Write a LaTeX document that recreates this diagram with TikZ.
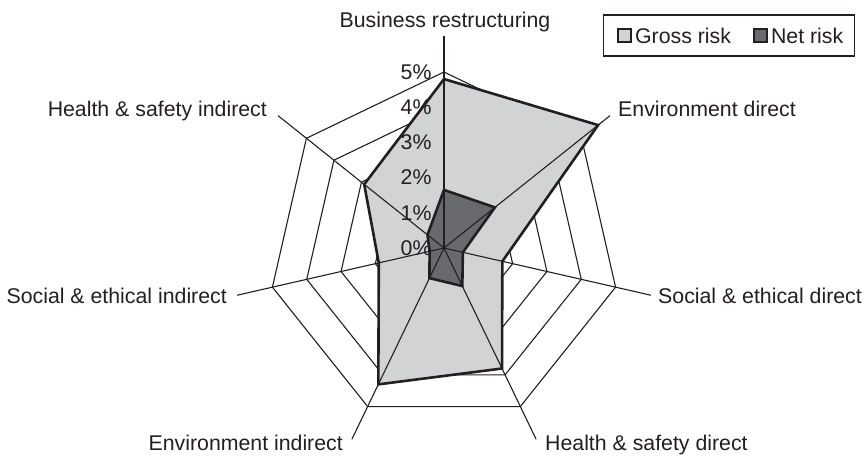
\documentclass[tikz,border=0pt]{standalone}
\usepackage{fontspec}
\setmainfont{Liberation Sans}
\usetikzlibrary{positioning}

\definecolor{grossgray}{RGB}{210,211,213}
\definecolor{netgray}{RGB}{105,106,110}
\definecolor{ink}{RGB}{35,31,32}

% one percent on the radial scale
\def\pc{35.2}

\begin{document}
\begin{tikzpicture}[
    x=1pt, y=1pt,
    font=\fontsize{21.3}{25}\selectfont,
    gridline/.style={draw=ink, line width=1.1pt},
    axisline/.style={draw=ink, line width=1.1pt},
    gross/.style={fill=grossgray, draw=ink, line width=2.6pt},
    net/.style={fill=netgray, draw=ink, line width=2.6pt},
    ticklabel/.style={anchor=east, inner sep=0pt, text=ink},
    catlabel/.style={inner sep=0pt, text=ink},
    swatch/.style={draw=ink, line width=2pt, minimum size=13pt, inner sep=0pt},
    legtext/.style={inner sep=0pt, text=ink}
  ]
  \useasboundingbox (-444,-207) rectangle (423,248);

  % Centre and axis ends
  \coordinate (o) at (0,0);
  \foreach \k in {0,...,6}
    \coordinate (a\k) at ({90-360/7*\k}:{6.03*\pc});

  % Rings
  \foreach \r in {1,...,5}
    \draw[gridline] (90:{\r*\pc}) \foreach \k in {1,...,6} { -- ({90-360/7*\k}:{\r*\pc}) } -- cycle;

  % Series
  \foreach \v [count=\k from 0] in {4.8,5.6,1.7,3.8,4.3,1.9,2.9}
    \coordinate (g\k) at ({90-360/7*\k}:{\v*\pc});
  \foreach \v [count=\k from 0] in {1.65,1.85,0.55,1.2,0.95,0.42,0.6}
    \coordinate (n\k) at ({90-360/7*\k}:{\v*\pc});
  \draw[gross] (g0) -- (g1) -- (g2) -- (g3) -- (g4) -- (g5) -- (g6) -- cycle;
  \draw[net] (n0) -- (n1) -- (n2) -- (n3) -- (n4) -- (n5) -- (n6) -- cycle;

  % Axes
  \foreach \k in {0,...,6}
    \draw[axisline] (o) -- (a\k);

  % Scale
  \foreach \t in {0,...,5}
    \node[ticklabel] (t\t) at (-12.3,{\t*\pc}) {\t\%};

  % Categories
  \node[catlabel, anchor=base] (bus) at (1,220.5) {Business restructuring};
  \node[catlabel, anchor=base west] (envd) at (174,131) {Environment direct};
  \node[catlabel, anchor=base west] (socd) at (214,-55) {Social \& ethical direct};
  \node[catlabel, anchor=base west] (hsd) at (101,-202) {Health \& safety direct};
  \node[catlabel, anchor=base east] (envi) at (-101,-202) {Environment indirect};
  \node[catlabel, anchor=base east] (soci) at (-217,-55) {Social \& ethical indirect};
  \node[catlabel, anchor=base east] (hsi) at (-177,131) {Health \& safety indirect};

  % Legend
  \node[draw=ink, line width=1.1pt, minimum width=251pt, minimum height=41pt] (legend) at (284.8,212.5) {};
  \node[swatch, fill=grossgray] (gsw) at (180,212.2) {};
  \node[legtext, right=3.4pt of gsw] (gtx) {Gross risk};
  \node[swatch, fill=netgray] (nsw) at (316,212.2) {};
  \node[legtext, right=3.4pt of nsw] (ntx) {Net risk};
\end{tikzpicture}
\end{document}
